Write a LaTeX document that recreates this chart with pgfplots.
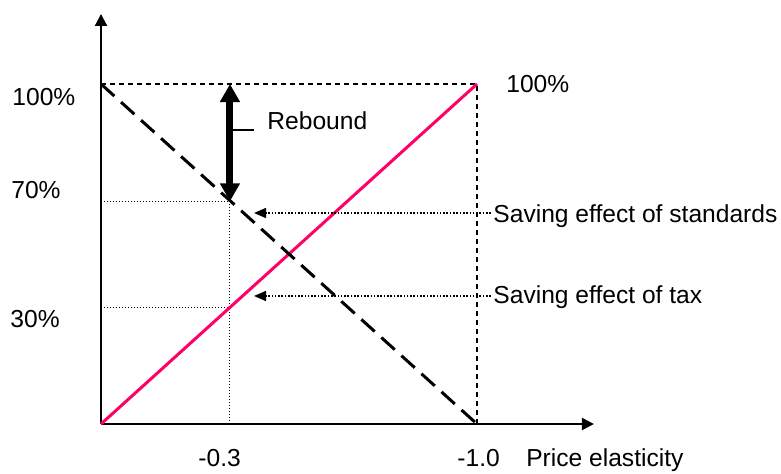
\documentclass[border=0pt]{standalone}
\usepackage{fontspec}
\setmainfont{Liberation Sans}
\usepackage{pgfplots}
\pgfplotsset{compat=1.18}
\usetikzlibrary{arrows.meta}
\definecolor{pinkline}{RGB}{255,0,102}
\begin{document}
\begin{tikzpicture}[lab/.style={inner sep=0pt, anchor=base west, font=\fontsize{12.3pt}{14pt}\selectfont}]
\begin{axis}[
  at={(0,0)}, anchor=south west,
  x=188pt, y=170pt,
  xmin=0, xmax=1.311, ymin=0, ymax=1.206,
  axis lines=left,
  axis line style={line width=1pt, -{Triangle[length=6pt,width=6pt]}},
  ticks=none, clip=false,
]
% reference lines
\addplot[black, line width=0.75pt, dash pattern=on 2.5pt off 2pt] coordinates {(0,1) (1,1) (1,0)};
\addplot[black, line width=0.5pt, dash pattern=on 0.5pt off 1pt] coordinates {(0,0.655) (0.343,0.655) (0.343,0)};
\addplot[black, line width=0.5pt, dash pattern=on 0.5pt off 1pt] coordinates {(0,0.343) (0.343,0.343)};
% main lines
\addplot[pinkline, line width=1.5pt] coordinates {(0,0) (1,1)};
\addplot[black, line width=1.5pt, dash pattern=on 9pt off 4.5pt] coordinates {(0,1) (1,0)};
% rebound arrow
\draw[line width=3.5pt, {Triangle[length=9pt,width=9.5pt]}-{Triangle[length=9pt,width=9.5pt]}] (axis cs:0.343,1) -- (axis cs:0.343,0.655);
\draw[line width=0.75pt] (axis cs:0.343,0.865) -- (axis cs:0.407,0.865);
% saving arrows
\draw[line width=0.75pt, dash pattern=on 0.8pt off 0.85pt, -{Triangle[length=6pt,width=5pt]}] (axis cs:1.037,0.6206) -- (axis cs:0.407,0.6206);
\draw[line width=0.75pt, dash pattern=on 0.8pt off 0.85pt, -{Triangle[length=6pt,width=5pt]}] (axis cs:1.037,0.3765) -- (axis cs:0.407,0.3765);
% labels
\node[lab] at (axis cs:-0.2367,0.938) {100\%};
\node[lab] at (axis cs:-0.2394,0.662) {70\%};
\node[lab] at (axis cs:-0.242,0.285) {30\%};
\node[lab] at (axis cs:1.077,0.976) {100\%};
\node[lab] at (axis cs:0.258,-0.1235) {-0.3};
\node[lab] at (axis cs:0.947,-0.1235) {-1.0};
\node[lab] at (axis cs:1.130,-0.1235) {Price elasticity};
\node[lab] at (axis cs:0.4415,0.865) {Rebound};
\node[lab] at (axis cs:1.0426,0.5926) {Saving effect of standards};
\node[lab] at (axis cs:1.0426,0.353) {Saving effect of tax};
\end{axis}
\pgfresetboundingbox
\useasboundingbox (-50.5pt,-24.5pt) rectangle (340pt,212pt);
\end{tikzpicture}
\end{document}
